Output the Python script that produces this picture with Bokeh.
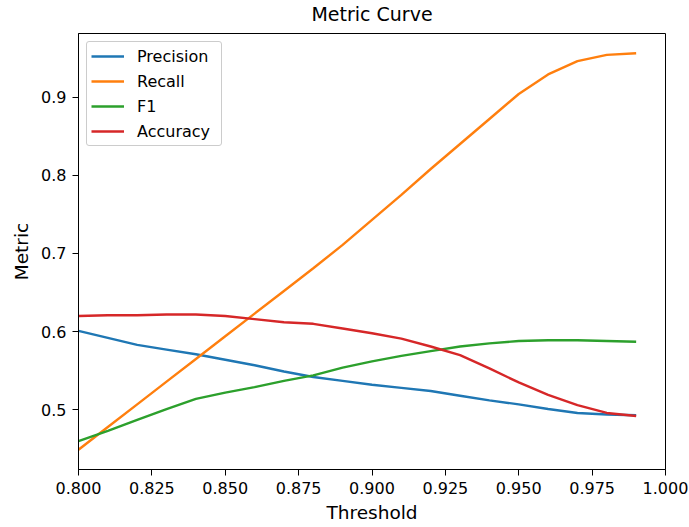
from bokeh.plotting import figure
from bokeh.models import Range1d, FixedTicker, PrintfTickFormatter, Legend, LegendItem
from bokeh.embed import file_html
from bokeh.resources import INLINE

thresholds = [0.80, 0.81, 0.82, 0.83, 0.84, 0.85, 0.86, 0.87, 0.88, 0.89,
              0.90, 0.91, 0.92, 0.93, 0.94, 0.95, 0.96, 0.97, 0.98, 0.99]
precision = [0.601, 0.592, 0.583, 0.577, 0.571, 0.564, 0.557, 0.549, 0.542, 0.537,
             0.532, 0.528, 0.524, 0.518, 0.512, 0.507, 0.501, 0.496, 0.494, 0.493]
recall = [0.449, 0.478, 0.507, 0.536, 0.565, 0.594, 0.623, 0.652, 0.681, 0.711,
          0.743, 0.775, 0.808, 0.840, 0.872, 0.904, 0.929, 0.946, 0.954, 0.956]
f1 = [0.460, 0.473, 0.487, 0.501, 0.514, 0.522, 0.529, 0.537, 0.544, 0.554,
      0.562, 0.569, 0.575, 0.581, 0.585, 0.588, 0.589, 0.589, 0.588, 0.587]
accuracy = [0.620, 0.621, 0.621, 0.622, 0.622, 0.620, 0.616, 0.612, 0.610, 0.604,
            0.598, 0.591, 0.581, 0.570, 0.553, 0.535, 0.519, 0.506, 0.496, 0.492]
series_names = ["Precision", "Recall", "F1", "Accuracy"]
colors = ["#1f77b4", "#ff7f0e", "#2ca02c", "#d62728"]
x_ticks = [0.800, 0.825, 0.850, 0.875, 0.900, 0.925, 0.950, 0.975, 1.000]
y_ticks = [0.5, 0.6, 0.7, 0.8, 0.9]

allv = precision + recall + f1 + accuracy
lo, hi = min(allv), max(allv)
pad = (hi - lo) * 0.05

FONT = "DejaVu Sans"

p = figure(width=689, height=527, output_backend="svg", toolbar_location=None,
           x_range=Range1d(0.8, 1.0), y_range=Range1d(lo - pad, hi + pad),
           title="Metric Curve", min_border_left=78, min_border_right=24,
           min_border_bottom=58, min_border_top=33)
p.title.align = "center"
p.title.text_font = FONT
p.title.text_font_size = "19px"
p.title.text_font_style = "normal"
p.title.text_color = "black"
p.title.standoff = 0
p.title.padding = dict(left=0, right=0, top=0, bottom=9)

p.grid.visible = False
p.outline_line_color = "black"
p.outline_line_width = 1
p.background_fill_color = "white"
p.border_fill_color = "white"

for ax in (p.xaxis[0], p.yaxis[0]):
    ax.major_tick_in = 0
    ax.major_tick_out = 6
    ax.minor_tick_line_color = None
    ax.axis_line_color = "black"
    ax.major_tick_line_color = "black"
    ax.major_label_text_font = FONT
    ax.major_label_text_font_size = "16px"
    ax.major_label_text_color = "black"
    ax.major_label_standoff = 6
    ax.axis_label_text_font = FONT
    ax.axis_label_text_font_size = "18.5px"
    ax.axis_label_text_font_style = "normal"
    ax.axis_label_text_color = "black"

p.xaxis.ticker = FixedTicker(ticks=x_ticks)
p.xaxis.formatter = PrintfTickFormatter(format="%.3f")
p.yaxis.ticker = FixedTicker(ticks=y_ticks)
p.yaxis.formatter = PrintfTickFormatter(format="%.1f")
p.xaxis.axis_label = "Threshold"
p.yaxis.axis_label = "Metric"
p.xaxis.axis_label_standoff = 5
p.yaxis.axis_label_standoff = 6

items = []
for name, vals, c in zip(series_names, [precision, recall, f1, accuracy], colors):
    r = p.line(thresholds, vals, line_color=c, line_width=2.4)
    items.append(LegendItem(label=name, renderers=[r]))

legend = Legend(items=items, location="top_left")
legend.label_text_font = FONT
legend.label_text_font_size = "16px"
legend.label_text_color = "black"
legend.border_line_color = "#cccccc"
legend.border_line_alpha = 1
legend.border_radius = 3
legend.background_fill_alpha = 0.8
legend.glyph_width = 33
legend.glyph_height = 20
legend.label_height = 20
legend.label_width = 80
legend.spacing = 5
legend.padding = 4
legend.margin = 8
legend.label_standoff = 13
p.add_layout(legend)

open("out.html", "w").write(file_html(p, INLINE))
